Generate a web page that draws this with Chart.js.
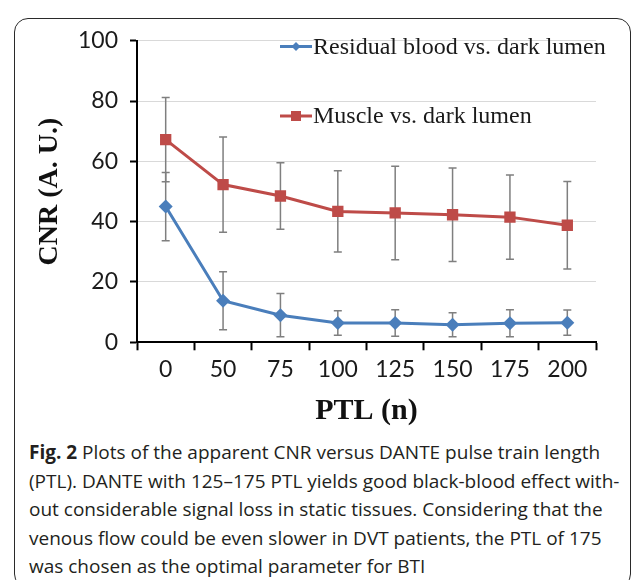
<!DOCTYPE html>
<html>
<head>
<meta charset="utf-8">
<script src="https://cdn.jsdelivr.net/npm/chart.js@4"></script>
<style>
  html, body { margin: 0; padding: 0; background: #fff; }
  body { width: 633px; height: 580px; position: relative; overflow: hidden; }
  #frame { position: absolute; left: 14px; top: 18px; width: 617px; height: 570px;
           border: 1.5px solid #2a2a2a; border-radius: 14px; box-sizing: border-box; }
  #wrap { position: absolute; left: 0; top: 0; width: 633px; height: 435px; }
  #caption { position: absolute; left: 29px; top: 438px; width: 600px;
             font-family: "Open Sans", sans-serif; font-size: 19px; line-height: 28.5px;
             color: #231f20; white-space: nowrap; letter-spacing: 0px; }
  #caption b { font-weight: 700; }
</style>
</head>
<body>
<div id="frame"></div>
<div id="wrap"><canvas id="c" width="633" height="435"></canvas></div>
<div id="caption"><b>Fig. 2</b> Plots of the apparent CNR versus DANTE pulse train length<br>(PTL). DANTE with 125–175 PTL yields good black-blood effect with-<br>out considerable signal loss in static tissues. Considering that the<br>venous flow could be even slower in DVT patients, the PTL of 175<br>was chosen as the optimal parameter for BTI</div>
<script>
// ---- data ----
const categories = ['0', '50', '75', '100', '125', '150', '175', '200'];
const bloodLabel = 'Residual blood vs. dark lumen';
const muscleLabel = 'Muscle vs. dark lumen';
const bloodCNR = [45.0, 13.8, 9.0, 6.4, 6.4, 5.8, 6.3, 6.5];
const bloodErr = [11.3, 9.6, 7.2, 4.1, 4.4, 4.0, 4.5, 4.2];
const muscleCNR = [67.2, 52.3, 48.5, 43.4, 42.9, 42.3, 41.5, 38.8];
const muscleErr = [14.0, 15.8, 11.0, 13.5, 15.5, 15.5, 14.0, 14.5];
const yTicks = [0, 20, 40, 60, 80, 100];
const xTitle = 'PTL (n)';
const yTitle = 'CNR (A. U.)';

const BLUE = '#4a7ebb';
const RED = '#be4b48';

const errorBars = {
  id: 'errorBars',
  beforeDatasetsDraw(chart) {
    const ctx = chart.ctx;
    const y = chart.scales.y;
    ctx.save();
    ctx.strokeStyle = '#7f7f7f';
    ctx.lineWidth = 1.5;
    chart.data.datasets.forEach((ds, i) => {
      const meta = chart.getDatasetMeta(i);
      ds.errors.forEach((e, j) => {
        const px = meta.data[j].x;
        const top = y.getPixelForValue(ds.data[j] + e);
        const bot = y.getPixelForValue(ds.data[j] - e);
        ctx.beginPath();
        ctx.moveTo(px, top); ctx.lineTo(px, bot);
        ctx.moveTo(px - 4, top); ctx.lineTo(px + 4, top);
        ctx.moveTo(px - 4, bot); ctx.lineTo(px + 4, bot);
        ctx.stroke();
      });
    });
    ctx.restore();
  }
};

const customLegend = {
  id: 'customLegend',
  afterDraw(chart) {
    const ctx = chart.ctx;
    const rows = [46.5, 116];
    ctx.save();
    chart.data.datasets.forEach((ds, i) => {
      const yy = rows[i];
      ctx.strokeStyle = ds.borderColor;
      ctx.lineWidth = 3;
      ctx.beginPath();
      ctx.moveTo(280, yy); ctx.lineTo(312, yy);
      ctx.stroke();
      ctx.fillStyle = ds.borderColor;
      if (ds.pointStyle === 'rect') {
        ctx.fillRect(296 - 5, yy - 5, 10, 10);
      } else {
        ctx.beginPath();
        ctx.moveTo(296, yy - 4.5); ctx.lineTo(300.5, yy); ctx.lineTo(296, yy + 4.5); ctx.lineTo(291.5, yy);
        ctx.closePath(); ctx.fill();
      }
      ctx.fillStyle = '#1a1a1a';
      ctx.font = '24px "Liberation Serif", "Times New Roman", serif';
      ctx.textBaseline = 'middle';
      ctx.textAlign = 'left';
      ctx.fillText(ds.label, 313, yy + 1);
    });
    ctx.restore();
  }
};

const PAD_LEFT = 33, PAD_TOP = 40.7, PAD_RIGHT = 37, PAD_BOTTOM = 6;
const AXIS_X = 137, AXIS_Y = 342.3, H = 435;

new Chart(document.getElementById('c'), {
  type: 'line',
  data: {
    labels: categories,
    datasets: [
      { label: bloodLabel, data: bloodCNR, errors: bloodErr, borderColor: BLUE, backgroundColor: BLUE,
        borderWidth: 3, pointStyle: 'rectRot', pointRadius: 7, pointBorderWidth: 0, tension: 0 },
      { label: muscleLabel, data: muscleCNR, errors: muscleErr, borderColor: RED, backgroundColor: RED,
        borderWidth: 3, pointStyle: 'rect', pointRadius: 8, pointBorderWidth: 0, tension: 0 }
    ]
  },
  options: {
    responsive: false,
    animation: false,
    events: [],
    layout: { padding: { left: PAD_LEFT, top: PAD_TOP, right: PAD_RIGHT, bottom: PAD_BOTTOM } },
    plugins: { legend: { display: false }, tooltip: { enabled: false } },
    scales: {
      x: {
        type: 'category',
        offset: true,
        grid: { offset: true, drawOnChartArea: false, drawTicks: true, tickLength: 8, tickColor: '#000', tickWidth: 2 },
        border: { color: '#000', width: 2 },
        ticks: { color: '#1a1a1a', font: { family: 'Lato, "Open Sans", sans-serif', size: 23 }, padding: 5, maxRotation: 0 },
        title: { display: true, text: xTitle, color: '#111', padding: 0,
                 font: { family: '"Liberation Serif", "Times New Roman", serif', size: 30, weight: 'bold' } },
        afterFit(s) { s.height = H - PAD_BOTTOM - AXIS_Y; }
      },
      y: {
        min: 0, max: 100,
        afterBuildTicks(s) { s.ticks = yTicks.map(v => ({ value: v })); },
        grid: { color: '#d9d9d9', lineWidth: 1, tickLength: 7, tickColor: '#000', tickWidth: 2 },
        border: { color: '#000', width: 2 },
        ticks: { color: '#1a1a1a', font: { family: 'Lato, "Open Sans", sans-serif', size: 23 }, padding: 12 },
        title: { display: true, text: yTitle, color: '#111', padding: 0,
                 font: { family: '"Liberation Serif", "Times New Roman", serif', size: 28, weight: 'bold' } },
        afterFit(s) { s.width = AXIS_X - PAD_LEFT; }
      }
    }
  },
  plugins: [errorBars, customLegend]
});
</script>
</body>
</html>
